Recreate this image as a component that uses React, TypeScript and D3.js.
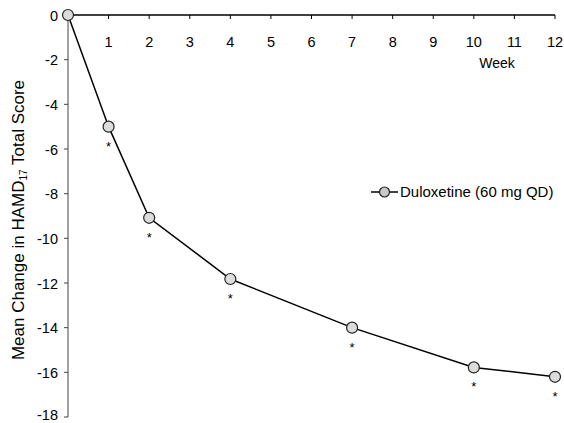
import * as React from "react";
import * as d3 from "d3";

const weeks = [0, 1, 2, 4, 7, 10, 12];
const meanChange = [0, -5.0, -9.08, -11.82, -14.0, -15.78, -16.2];
const significant = [false, true, true, true, true, true, true];
const xTicks = [1, 2, 3, 4, 5, 6, 7, 8, 9, 10, 11, 12];
const yTicks = [0, -2, -4, -6, -8, -10, -12, -14, -16, -18];
const seriesName = "Duloxetine (60 mg QD)";

export default function App() {
  const width = 564;
  const height = 423;
  const font = "Arial, 'Liberation Sans', sans-serif";

  const x = d3.scaleLinear().domain([0, 12]).range([68, 555]);
  const y = d3.scaleLinear().domain([0, -18]).range([15, 417]);

  const line = d3
    .line<number>()
    .x((d, i) => x(weeks[i]))
    .y((d) => y(d));

  return (
    <svg
      width={width}
      height={height}
      style={{ position: "absolute", left: 0, top: 0, background: "#fff" }}
      fontFamily={font}
    >
      {/* y axis */}
      <line x1={x(0)} x2={x(0)} y1={y(0)} y2={y(-18)} stroke="#444" strokeWidth={1} />
      {yTicks.map((t) => (
        <g key={t}>
          <line x1={x(0) - 4} x2={x(0)} y1={y(t)} y2={y(t)} stroke="#444" />
          <text
            x={x(0) - 10}
            y={t === -18 ? y(t) - 1 : y(t) + 2}
            textAnchor="end"
            dominantBaseline="middle"
            fontSize={14.5}
          >
            {t}
          </text>
        </g>
      ))}

      {/* x axis at top */}
      <line x1={x(0)} x2={x(12)} y1={y(0)} y2={y(0)} stroke="#000" strokeWidth={1.5} />
      {xTicks.map((t) => (
        <g key={t}>
          <line x1={x(t)} x2={x(t)} y1={y(0)} y2={y(0) + 4} stroke="#000" />
          <text
            x={x(t)}
            y={y(0) + 28}
            textAnchor="middle"
            dominantBaseline="middle"
            fontSize={14.5}
          >
            {t}
          </text>
        </g>
      ))}
      <text x={497} y={64} textAnchor="middle" dominantBaseline="middle" fontSize={14}>
        Week
      </text>

      {/* y axis title */}
      <text
        transform={`translate(20,${220}) rotate(-90)`}
        textAnchor="middle"
        dominantBaseline="middle"
        fontSize={17}
      >
        Mean Change in HAMD
        <tspan fontSize={10} dy={4}>17</tspan>
        <tspan dy={-4}> Total Score</tspan>
      </text>

      {/* series */}
      <path d={line(meanChange) || ""} fill="none" stroke="#000" strokeWidth={1.5} />
      {meanChange.map((v, i) => (
        <g key={i}>
          <circle cx={x(weeks[i])} cy={y(v)} r={5.5} fill="#dcdcdc" stroke="#222" strokeWidth={1.2} />
          {significant[i] && (
            <text x={x(weeks[i])} y={y(v) + 24} textAnchor="middle" fontSize={13}>
              *
            </text>
          )}
        </g>
      ))}

      {/* legend */}
      <line x1={371} x2={398} y1={192} y2={192} stroke="#000" strokeWidth={1.5} />
      <circle cx={384.5} cy={192} r={5} fill="#c8c8c8" stroke="#222" strokeWidth={1.2} />
      <text x={400} y={193} dominantBaseline="middle" fontSize={15}>
        {seriesName}
      </text>
    </svg>
  );
}
